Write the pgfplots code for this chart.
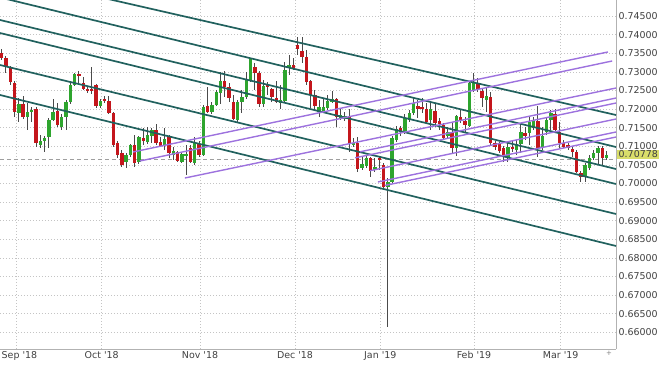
\documentclass[border=0pt]{standalone}
\usepackage{fontspec}
\setmainfont{DejaVu Sans}[Ligatures=TeXOff]
\usepackage{pgfplots}
\pgfplotsset{compat=1.18}
\usepackage{pgfplotstable}
\definecolor{cgreen}{HTML}{2EA52E}
\definecolor{cred}{HTML}{C4161C}
\definecolor{wickc}{HTML}{4A4A4A}
\definecolor{tealc}{HTML}{21615E}
\definecolor{purp}{HTML}{9D72DE}
\definecolor{gridc}{HTML}{C4C4C4}
\definecolor{txt}{HTML}{404040}
\definecolor{lbl}{HTML}{D9DE6A}

\pgfplotstableread{
k o h l c
0 0.7351 0.7361 0.7332 0.7337
1 0.7337 0.7342 0.7297 0.7313
2 0.7310 0.7316 0.7265 0.7273
3 0.7270 0.7275 0.7179 0.7192
4 0.7189 0.7230 0.7165 0.7214
5 0.7214 0.7235 0.7173 0.7179
6 0.7179 0.7216 0.7144 0.7192
7 0.7192 0.7205 0.7165 0.7197
8 0.7200 0.7205 0.7098 0.7109
9 0.7103 0.7130 0.7095 0.7114
10 0.7114 0.7128 0.7085 0.7122
11 0.7125 0.7176 0.7095 0.7170
12 0.7170 0.7227 0.7168 0.7192
13 0.7195 0.7216 0.7152 0.7157
14 0.7152 0.7187 0.7144 0.7179
15 0.7179 0.7224 0.7144 0.7219
16 0.7219 0.7270 0.7214 0.7265
17 0.7265 0.7297 0.7262 0.7294
18 0.7294 0.7302 0.7265 0.7290
19 0.7270 0.7286 0.7251 0.7254
20 0.7254 0.7262 0.7243 0.7248
21 0.7254 0.7313 0.7240 0.7248
22 0.7265 0.7267 0.7203 0.7208
23 0.7208 0.7227 0.7203 0.7222
24 0.7227 0.7235 0.7216 0.7222
25 0.7222 0.7235 0.7187 0.7189
26 0.7189 0.7192 0.7098 0.7103
27 0.7109 0.7114 0.7068 0.7077
28 0.7082 0.7090 0.7044 0.7050
29 0.7058 0.7082 0.7042 0.7077
30 0.7077 0.7106 0.7071 0.7103
31 0.7103 0.7130 0.7044 0.7055
32 0.7058 0.7128 0.7052 0.7125
33 0.7122 0.7149 0.7103 0.7114
34 0.7111 0.7152 0.7106 0.7130
35 0.7128 0.7149 0.7109 0.7144
36 0.7144 0.7160 0.7103 0.7109
37 0.7111 0.7125 0.7098 0.7101
38 0.7103 0.7149 0.7090 0.7119
39 0.7125 0.7130 0.7068 0.7082
40 0.7077 0.7098 0.7063 0.7087
41 0.7085 0.7087 0.7058 0.7060
42 0.7058 0.7085 0.7055 0.7079
43 0.7074 0.7103 0.7023 0.7079
44 0.7095 0.7103 0.7055 0.7058
45 0.7055 0.7125 0.7050 0.7109
46 0.7106 0.7114 0.7071 0.7077
47 0.7077 0.7211 0.7074 0.7205
48 0.7208 0.7259 0.7189 0.7192
49 0.7192 0.7219 0.7187 0.7211
50 0.7211 0.7251 0.7208 0.7246
51 0.7243 0.7299 0.7214 0.7275
52 0.7275 0.7302 0.7232 0.7259
53 0.7259 0.7270 0.7219 0.7230
54 0.7219 0.7238 0.7170 0.7173
55 0.7170 0.7224 0.7165 0.7219
56 0.7219 0.7251 0.7189 0.7232
57 0.7232 0.7299 0.7227 0.7278
58 0.7275 0.7337 0.7273 0.7334
59 0.7313 0.7324 0.7251 0.7297
60 0.7297 0.7302 0.7205 0.7214
61 0.7214 0.7278 0.7205 0.7262
62 0.7265 0.7273 0.7238 0.7259
63 0.7254 0.7257 0.7219 0.7232
64 0.7230 0.7275 0.7216 0.7219
65 0.7216 0.7265 0.7200 0.7224
66 0.7222 0.7326 0.7219 0.7305
67 0.7310 0.7345 0.7291 0.7318
68 0.7318 0.7337 0.7305 0.7310
69 0.7372 0.7394 0.7345 0.7361
70 0.7356 0.7394 0.7324 0.7340
71 0.7340 0.7359 0.7265 0.7273
72 0.7275 0.7278 0.7203 0.7238
73 0.7238 0.7251 0.7197 0.7208
74 0.7192 0.7224 0.7179 0.7205
75 0.7192 0.7230 0.7189 0.7205
76 0.7203 0.7238 0.7197 0.7222
77 0.7219 0.7248 0.7216 0.7227
78 0.7227 0.7230 0.7152 0.7179
79 0.7176 0.7203 0.7170 0.7184
80 0.7173 0.7192 0.7168 0.7181
81 0.7179 0.7200 0.7085 0.7109
82 0.7103 0.7122 0.7098 0.7109
83 0.7109 0.7125 0.7031 0.7039
84 0.7042 0.7071 0.7036 0.7052
85 0.7047 0.7077 0.7042 0.7068
86 0.7068 0.7071 0.7017 0.7033
87 0.7036 0.7068 0.7031 0.7044
88 0.7068 0.7071 0.7036 0.7063
89 0.7050 0.7055 0.6982 0.6990
90 0.6990 0.7015 0.6614 0.7004
91 0.7004 0.7128 0.6998 0.7122
92 0.7117 0.7154 0.7111 0.7146
93 0.7149 0.7154 0.7128 0.7138
94 0.7138 0.7187 0.7133 0.7176
95 0.7170 0.7197 0.7165 0.7189
96 0.7189 0.7232 0.7184 0.7216
97 0.7208 0.7224 0.7176 0.7200
98 0.7205 0.7230 0.7189 0.7201
99 0.7200 0.7216 0.7162 0.7165
100 0.7170 0.7219 0.7144 0.7200
101 0.7195 0.7216 0.7152 0.7162
102 0.7168 0.7176 0.7144 0.7160
103 0.7157 0.7162 0.7117 0.7122
104 0.7128 0.7152 0.7122 0.7138
105 0.7138 0.7165 0.7082 0.7095
106 0.7095 0.7184 0.7074 0.7181
107 0.7179 0.7200 0.7162 0.7168
108 0.7168 0.7179 0.7136 0.7157
109 0.7154 0.7273 0.7152 0.7270
110 0.7251 0.7297 0.7246 0.7273
111 0.7270 0.7283 0.7246 0.7254
112 0.7248 0.7257 0.7205 0.7230
113 0.7224 0.7259 0.7192 0.7235
114 0.7232 0.7246 0.7103 0.7109
115 0.7109 0.7114 0.7090 0.7098
116 0.7106 0.7111 0.7082 0.7087
117 0.7095 0.7101 0.7058 0.7071
118 0.7068 0.7109 0.7058 0.7098
119 0.7098 0.7117 0.7085 0.7093
120 0.7090 0.7117 0.7077 0.7106
121 0.7106 0.7162 0.7082 0.7138
122 0.7136 0.7152 0.7117 0.7128
123 0.7136 0.7179 0.7103 0.7165
124 0.7149 0.7179 0.7144 0.7168
125 0.7168 0.7208 0.7071 0.7095
126 0.7098 0.7152 0.7090 0.7128
127 0.7138 0.7179 0.7130 0.7170
128 0.7170 0.7197 0.7144 0.7189
129 0.7187 0.7200 0.7138 0.7144
130 0.7138 0.7165 0.7095 0.7109
131 0.7109 0.7117 0.7095 0.7098
132 0.7103 0.7109 0.7090 0.7095
133 0.7093 0.7098 0.7071 0.7085
134 0.7085 0.7090 0.7028 0.7031
135 0.7028 0.7033 0.7004 0.7017
136 0.7017 0.7055 0.7004 0.7050
137 0.7042 0.7077 0.7036 0.7068
138 0.7068 0.7090 0.7063 0.7082
139 0.7082 0.7101 0.7050 0.7095
140 0.7095 0.7101 0.7050 0.7068
141 0.7068 0.7087 0.7063 0.70778
}\candles

\begin{document}
\begin{tikzpicture}
\useasboundingbox (0,0) rectangle (660bp,366bp);
\begin{axis}[
  at={(0,17bp)}, anchor=south west,
  scale only axis, width=616bp, height=349bp,
  xmin=-0.396, xmax=143.19, ymin=0.65551, ymax=0.7493,
  axis x line=bottom, axis y line=right,
  axis line style={draw=gray!60, line width=0.8bp, -},
  ytick={0.660,0.665,0.670,0.675,0.680,0.685,0.690,0.695,0.700,0.705,0.710,0.715,0.720,0.725,0.730,0.735,0.740,0.745},
  y tick label style={/pgf/number format/fixed, /pgf/number format/fixed zerofill,
    /pgf/number format/precision=5, /pgf/number format/assume math mode=true,
    font=\fontsize{9.5}{11}\selectfont, text=txt, anchor=west, xshift=-1bp},
  xtick={3.33,23.31,46.22,68.37,88.25,110.09,130.30},
  xticklabels={\hspace*{7bp}Sep '18, Oct '18, Nov '18, Dec '18, Jan '19, Feb '19, Mar '19},
  x tick label style={font=\fontsize{9.5}{11}\selectfont, text=txt, yshift=1bp},
  extra x ticks={141.56},
  extra x tick labels={\textcolor{gray}{\fontsize{7}{8}\selectfont +}},
  extra x tick style={grid=none},
  grid=major,
  major grid style={draw=gridc, line width=0.6bp, dash pattern=on 1.2bp off 1.8bp},
  major tick length=0pt,
  clip mode=individual,
]
% last-price dashed line
\addplot[draw=gray!75, line width=0.7bp, dash pattern=on 4bp off 3bp] coordinates {(-0.4,0.7066) (143.2,0.7066)};

% wicks
\addplot[only marks, mark=*, mark size=0pt, mark options={draw=none, fill=none},
  error bars/.cd, y dir=both, y explicit, error mark=none,
  error bar style={draw=wickc, line width=1bp, solid}]
  table[x=k, y expr={(\thisrow{h}+\thisrow{l})/2}, y error expr={(\thisrow{h}-\thisrow{l})/2}] {\candles};

% green bodies
\addplot[only marks, mark=*, mark size=0pt, mark options={draw=none, fill=none},
  restrict expr to domain={\thisrow{c}-\thisrow{o}}{0:1},
  error bars/.cd, y dir=both, y explicit, error mark=none,
  error bar style={draw=cgreen, line width=3.4bp, line cap=butt, solid}]
  table[x=k, y expr={(\thisrow{o}+\thisrow{c})/2}, y error expr={abs(\thisrow{c}-\thisrow{o})/2}] {\candles};

% red bodies
\addplot[only marks, mark=*, mark size=0pt, mark options={draw=none, fill=none},
  restrict expr to domain={\thisrow{o}-\thisrow{c}}{0.00001:1},
  error bars/.cd, y dir=both, y explicit, error mark=none,
  error bar style={draw=cred, line width=3.4bp, line cap=butt, solid}]
  table[x=k, y expr={(\thisrow{o}+\thisrow{c})/2}, y error expr={abs(\thisrow{c}-\thisrow{o})/2}] {\candles};

% descending (teal) pitchfork lines
\addplot[draw=tealc, line width=1.7bp] coordinates {(-0.4,0.75621) (143.2,0.71839)};
\addplot[draw=tealc, line width=1.7bp] coordinates {(-0.4,0.74999) (143.2,0.70979)};
\addplot[draw=tealc, line width=1.7bp] coordinates {(-0.4,0.74393) (143.2,0.70388)};
\addplot[draw=tealc, line width=1.7bp] coordinates {(-0.4,0.74043) (143.2,0.69985)};
\addplot[draw=tealc, line width=1.7bp] coordinates {(-0.4,0.73183) (143.2,0.69179)};
\addplot[draw=tealc, line width=1.7bp] coordinates {(-0.4,0.72377) (143.2,0.68319)};

% ascending (purple) lines
\addplot[draw=purp, line width=1.4bp] coordinates {(30.6,0.70845) (141.3,0.73533)};
\addplot[draw=purp, line width=1.4bp] coordinates {(32.2,0.70603) (142.3,0.73291)};
\addplot[draw=purp, line width=1.4bp] coordinates {(42.7,0.70146) (143.2,0.72565)};
\addplot[draw=purp, line width=1.4bp] coordinates {(83.5,0.70850) (143.2,0.72296)};
\addplot[draw=purp, line width=1.4bp] coordinates {(82.4,0.70689) (143.2,0.72162)};
\addplot[draw=purp, line width=1.4bp] coordinates {(85.9,0.70343) (143.2,0.71732)};
\addplot[draw=purp, line width=1.4bp] coordinates {(87.7,0.70039) (143.2,0.71383)};
\addplot[draw=purp, line width=1.4bp] coordinates {(89.3,0.69945) (143.2,0.71248)};

\coordinate (LP) at (axis cs:143.19,0.70778);
\end{axis}
\node[anchor=west, fill=lbl, text=txt, inner xsep=1.5bp, inner ysep=1.2bp,
  font=\fontsize{9.5}{11}\selectfont] at ([xshift=1bp]LP) {0.70778};
\end{tikzpicture}
\end{document}
